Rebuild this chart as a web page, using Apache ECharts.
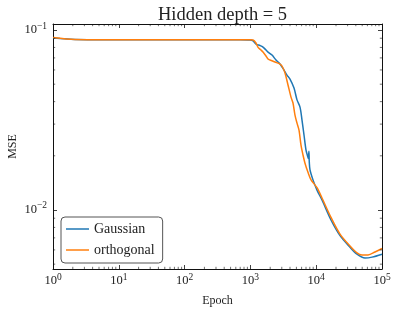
<!DOCTYPE html>
<html>
<head>
<meta charset="utf-8">
<script src="https://cdn.jsdelivr.net/npm/echarts@6/dist/echarts.min.js"></script>
<style>html,body{margin:0;padding:0;background:#fff}#c{width:396px;height:311px}</style>
</head>
<body>
<div id="c"></div>
<script>
var gaussianEpoch = [1, 1.28, 2.16, 10, 100, 695, 986, 1097, 1216, 1399, 1554, 1726, 1852, 2130, 2449, 2818, 3242, 3597, 3998, 4600, 5108, 5675, 6085, 6526, 7000, 7380, 7600, 7750, 7850, 8050, 8937, 10280, 12250, 16780, 23010, 32650, 41690, 55200, 70500, 100000];
var gaussianMSE = [0.0903, 0.0897, 0.0886, 0.0883, 0.0883, 0.0883, 0.0880, 0.0869, 0.0836, 0.0820, 0.0804, 0.0774, 0.0754, 0.0726, 0.0681, 0.0647, 0.0599, 0.0562, 0.0534, 0.0476, 0.0409, 0.0373, 0.0316, 0.0261, 0.0215, 0.0200, 0.0193, 0.0212, 0.0185, 0.0167, 0.0147, 0.0129, 0.01136, 0.0088, 0.0072, 0.00621, 0.00568, 0.00541, 0.00547, 0.00568];
var orthogonalEpoch = [1, 2.16, 10, 100, 986, 1097, 1216, 1300, 1449, 1554, 1726, 1852, 1986, 2366, 2818, 3020, 3356, 3727, 4140, 4440, 4760, 5108, 5480, 5875, 6300, 6755, 7500, 8350, 10280, 12250, 16780, 23010, 32650, 41690, 49650, 61300, 78300, 100000];
var orthogonalMSE = [0.0909, 0.0886, 0.0883, 0.0883, 0.0883, 0.0880, 0.0847, 0.0804, 0.0774, 0.0754, 0.0717, 0.0690, 0.0681, 0.0664, 0.0647, 0.0631, 0.0577, 0.0495, 0.0424, 0.0393, 0.0337, 0.0304, 0.0278, 0.0229, 0.0202, 0.0182, 0.0162, 0.0147, 0.0133, 0.01166, 0.0091, 0.00735, 0.00631, 0.00578, 0.00563, 0.00563, 0.00584, 0.00611];
var xMinorTicks = [2,3,4,5,6,7,8,9,20,30,40,50,60,70,80,90,200,300,400,500,600,700,800,900,2000,3000,4000,5000,6000,7000,8000,9000,20000,30000,40000,50000,60000,70000,80000,90000];
var yMinorTicks = [0.005,0.006,0.007,0.008,0.009,0.02,0.03,0.04,0.05,0.06,0.07,0.08,0.09];
var X_MIN = 1, X_MAX = 100000, Y_MIN = 0.0047, Y_MAX = 0.108;
var FONT = 'Liberation Serif';
var TXT = '#222';

function zip(a, b) { return a.map(function (v, i) { return [v, b[i]]; }); }
function powLabel(v) {
  var e = Math.round(Math.log10(v));
  return '{b|10}{s|' + String(e).replace('-', '\u2212') + '}';
}
var rich = { b: { fontFamily: FONT, fontSize: 12.5, color: TXT }, s: { fontFamily: FONT, fontSize: 9.5, color: TXT, padding: [0, 0, 8, 0] } };

var chart = echarts.init(document.getElementById('c'), null, { renderer: 'canvas' });
var axisLine = { show: true, lineStyle: { color: '#111', width: 1 } };
var majorTick = { show: true, inside: true, length: 4, lineStyle: { color: '#111', width: 0.8 } };

function minorSeries(values, isX) {
  return {
    type: 'custom', silent: true, clip: false, z: 10,
    xAxisIndex: 0, yAxisIndex: 0,
    data: values.map(function (v) { return [v]; }),
    renderItem: function (params, api) {
      var v = api.value(0), a, b, L = 2.2;
      if (isX) {
        a = api.coord([v, Y_MIN]); b = api.coord([v, Y_MAX]);
        return { type: 'group', children: [
          { type: 'line', shape: { x1: a[0], y1: a[1], x2: a[0], y2: a[1] - L }, style: { stroke: '#111', lineWidth: 0.6 } },
          { type: 'line', shape: { x1: b[0], y1: b[1], x2: b[0], y2: b[1] + L }, style: { stroke: '#111', lineWidth: 0.6 } }
        ] };
      } else {
        a = api.coord([X_MIN, v]); b = api.coord([X_MAX, v]);
        return { type: 'group', children: [
          { type: 'line', shape: { x1: a[0], y1: a[1], x2: a[0] + L, y2: a[1] }, style: { stroke: '#111', lineWidth: 0.6 } },
          { type: 'line', shape: { x1: b[0], y1: b[1], x2: b[0] - L, y2: b[1] }, style: { stroke: '#111', lineWidth: 0.6 } }
        ] };
      }
    }
  };
}

chart.setOption({
  animation: false,
  backgroundColor: '#fff',
  title: { text: 'Hidden depth = 5', left: 217.5, textAlign: 'center', top: 1,
    textStyle: { fontFamily: FONT, fontSize: 18.5, fontWeight: 'normal', color: TXT } },
  grid: { left: 53, right: 14, top: 24, bottom: 42, containLabel: false, outerBoundsMode: 'none' },
  legend: {
    orient: 'vertical', left: 61, top: 217, padding: [5, 8, 6, 5], itemGap: 7,
    itemWidth: 23, itemHeight: 1.5, icon: 'rect',
    backgroundColor: '#fff', borderColor: '#555', borderWidth: 1, borderRadius: 4,
    textStyle: { fontFamily: FONT, fontSize: 14, color: TXT, lineHeight: 14 },
    data: ['Gaussian', 'orthogonal']
  },
  xAxis: [
    { type: 'log', logBase: 10, min: X_MIN, max: X_MAX, position: 'bottom',
      name: 'Epoch', nameLocation: 'middle', nameGap: 26, nameMoveOverlap: false,
      nameTextStyle: { fontFamily: FONT, fontSize: 12, color: TXT },
      axisLine: axisLine, axisTick: majorTick, splitLine: { show: false },
      axisLabel: { margin: 3, formatter: powLabel, rich: rich } },
    { type: 'log', logBase: 10, min: X_MIN, max: X_MAX, position: 'top',
      axisLine: axisLine, axisTick: majorTick, splitLine: { show: false }, axisLabel: { show: false } }
  ],
  yAxis: [
    { type: 'log', logBase: 10, min: Y_MIN, max: Y_MAX, position: 'left',
      name: 'MSE', nameLocation: 'middle', nameGap: 34, nameRotate: 90, nameMoveOverlap: false,
      nameTextStyle: { fontFamily: FONT, fontSize: 12, color: TXT },
      axisLine: axisLine, axisTick: majorTick, splitLine: { show: false },
      axisLabel: { margin: 6, formatter: powLabel, rich: rich, showMinLabel: false, showMaxLabel: false } },
    { type: 'log', logBase: 10, min: Y_MIN, max: Y_MAX, position: 'right',
      axisLine: axisLine, axisTick: majorTick, splitLine: { show: false }, axisLabel: { show: false } }
  ],
  series: [
    { name: 'Gaussian', type: 'line', data: zip(gaussianEpoch, gaussianMSE), symbol: 'none', smooth: 0.3,
      lineStyle: { color: '#1f77b4', width: 1.5 }, itemStyle: { color: '#1f77b4' }, z: 3 },
    { name: 'orthogonal', type: 'line', data: zip(orthogonalEpoch, orthogonalMSE), symbol: 'none', smooth: 0.3,
      lineStyle: { color: '#ff7f0e', width: 1.5 }, itemStyle: { color: '#ff7f0e' }, z: 4 },
    minorSeries(xMinorTicks, true),
    minorSeries(yMinorTicks, false)
  ]
});
</script>
</body>
</html>
